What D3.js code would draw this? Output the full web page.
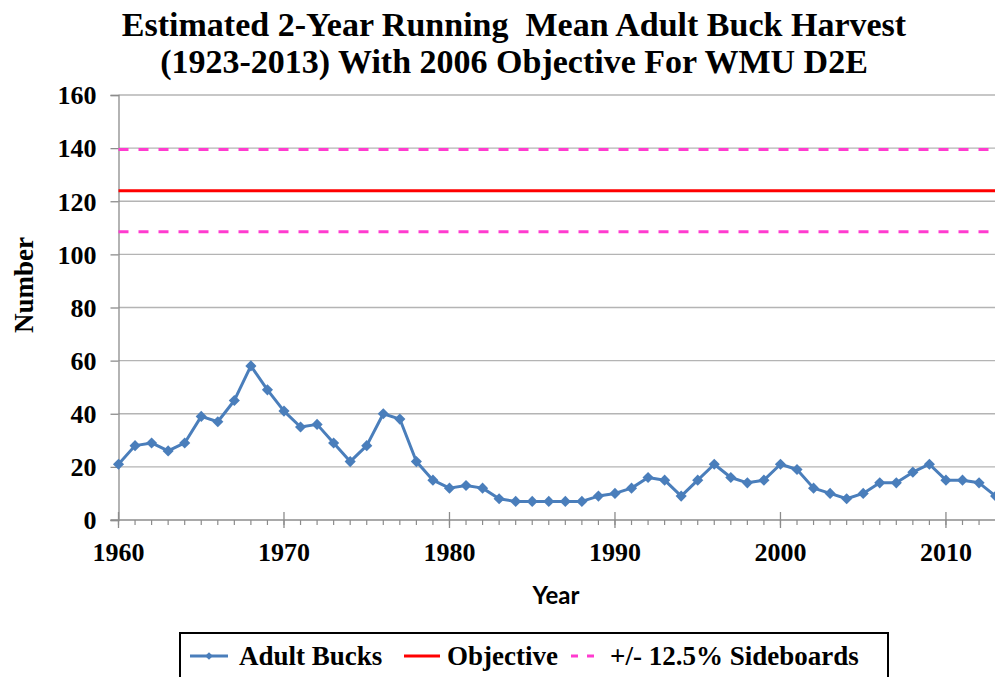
<!DOCTYPE html>
<html>
<head>
<meta charset="utf-8">
<script src="https://cdn.jsdelivr.net/npm/d3@7/dist/d3.min.js"></script>
<style>
  html, body { margin: 0; padding: 0; background: #fff; }
  svg { display: block; }
</style>
</head>
<body>
<svg id="chart" width="995" height="677"></svg>
<script>
// Estimated 2-year running mean of adult buck harvest, WMU D2E
const years = d3.range(1960, 2014);
const adultBucks = [
  21, 28, 29, 26, 29, 39, 37, 45, 58, 49,   // 1960-1969
  41, 35, 36, 29, 22, 28, 40, 38, 22, 15,   // 1970-1979
  12, 13, 12, 8, 7, 7, 7, 7, 7, 9,          // 1980-1989
  10, 12, 16, 15, 9, 15, 21, 16, 14, 15,    // 1990-1999
  21, 19, 12, 10, 8, 10, 14, 14, 18, 21,    // 2000-2009
  15, 15, 14, 9                             // 2010-2013
];
const objective = 124;
const sideboardPct = 0.125;
const sideboards = [objective * (1 + sideboardPct), objective * (1 - sideboardPct)];
const yTicks = [0, 20, 40, 60, 80, 100, 120, 140, 160];
const xTicks = [1960, 1970, 1980, 1990, 2000, 2010];
const titleLines = [
  "Estimated 2-Year Running  Mean Adult Buck Harvest",
  "(1923-2013) With 2006 Objective For WMU D2E"
];
const legendItems = ["Adult Bucks", "Objective", "+/- 12.5% Sideboards"];

const blue = "#4a7ebb", red = "#ff0000", pink = "#ff3bcf", grid = "#b4b4b4", axisCol = "#8c8c8c";
const SERIF = "'Liberation Serif'";

function serif(sel, size) {
  return sel.style("font-family", SERIF).style("font-weight", "bold")
    .style("font-size", size + "px").attr("fill", "#000");
}

const svg = d3.select("#chart");
const x = d3.scaleLinear().domain([1960, 2013]).range([118.5, 995.6]);
const y = d3.scaleLinear().domain([0, 160]).range([520, 95]);
const plotRight = 995;

// title
serif(svg.append("g").selectAll("text").data(titleLines).join("text"), 34)
  .attr("x", 514).attr("y", (d, i) => 36 + i * 37)
  .attr("text-anchor", "middle")
  .style("white-space", "pre")
  .text(d => d);

// horizontal gridlines
svg.append("g").selectAll("line").data(yTicks.filter(t => t > 0)).join("line")
  .attr("x1", x(1960)).attr("x2", plotRight)
  .attr("y1", d => y(d)).attr("y2", d => y(d))
  .attr("stroke", grid).attr("stroke-width", 1.3);

// y axis
const yAxis = svg.append("g").attr("transform", `translate(${x(1960)},0)`)
  .call(d3.axisLeft(y).tickValues(yTicks).tickSize(8).tickPadding(14).tickFormat(d3.format("d")));
yAxis.select(".domain").attr("stroke", axisCol).attr("stroke-width", 1.3);
yAxis.selectAll(".tick line").attr("stroke", axisCol).attr("stroke-width", 1.3);
serif(yAxis.selectAll("text"), 26).attr("dy", "0.34em");

// x axis: minor yearly ticks below, major decade ticks crossing the axis
const xg = svg.append("g").attr("transform", `translate(0,${y(0)})`);
xg.append("line").attr("x1", x(1960) - 8).attr("x2", plotRight)
  .attr("stroke", axisCol).attr("stroke-width", 1.3);
xg.selectAll("line.minor").data(years).join("line").attr("class", "minor")
  .attr("x1", d => x(d)).attr("x2", d => x(d)).attr("y1", 0).attr("y2", 5)
  .attr("stroke", axisCol).attr("stroke-width", 1.2);
xg.selectAll("line.major").data(xTicks).join("line").attr("class", "major")
  .attr("x1", d => x(d)).attr("x2", d => x(d)).attr("y1", -8).attr("y2", 8)
  .attr("stroke", axisCol).attr("stroke-width", 1.3);
serif(xg.selectAll("text").data(xTicks).join("text"), 26)
  .attr("x", d => x(d)).attr("y", 41)
  .attr("text-anchor", "middle")
  .text(d => d);

// axis titles
svg.append("text")
  .attr("x", 556).attr("y", 604).attr("text-anchor", "middle")
  .style("font-family", "Lato, 'Open Sans', sans-serif").style("font-weight", "bold")
  .style("font-size", "24px").text("Year");
serif(svg.append("text"), 27)
  .attr("transform", "translate(33,285) rotate(-90)")
  .attr("text-anchor", "middle").text("Number");

// objective and sideboards
svg.append("line")
  .attr("x1", x(1960)).attr("x2", plotRight)
  .attr("y1", y(objective)).attr("y2", y(objective))
  .attr("stroke", red).attr("stroke-width", 3);
svg.append("g").selectAll("line").data(sideboards).join("line")
  .attr("x1", x(1960)).attr("x2", plotRight)
  .attr("y1", d => y(d)).attr("y2", d => y(d))
  .attr("stroke", pink).attr("stroke-width", 3).attr("stroke-dasharray", "10 10");

// adult bucks series
const series = years.map((yr, i) => ({ yr, v: adultBucks[i] }));
svg.append("path").datum(series)
  .attr("fill", "none").attr("stroke", blue).attr("stroke-width", 3).attr("stroke-linejoin", "round")
  .attr("d", d3.line().x(d => x(d.yr)).y(d => y(d.v)));
const diamond = d3.symbol().type(d3.symbolSquare).size(62);
svg.append("g").selectAll("path").data(series).join("path")
  .attr("d", diamond)
  .attr("transform", d => `translate(${x(d.yr)},${y(d.v)}) rotate(45)`)
  .attr("fill", blue);

// legend
const lg = svg.append("g");
lg.append("rect").attr("x", 180).attr("y", 633).attr("width", 708).attr("height", 60)
  .attr("fill", "#fff").attr("stroke", "#000").attr("stroke-width", 2);
const ly = 656;
const itemPos = [
  { x0: 190, x1: 228, tx: 239 },
  { x0: 404, x1: 440, tx: 447 },
  { x0: 571, x1: 602, tx: 610 }
];
// blue sample with marker
lg.append("line").attr("x1", itemPos[0].x0).attr("x2", itemPos[0].x1).attr("y1", ly).attr("y2", ly)
  .attr("stroke", blue).attr("stroke-width", 3);
lg.append("path").attr("d", d3.symbol().type(d3.symbolSquare).size(30))
  .attr("transform", `translate(${(itemPos[0].x0 + itemPos[0].x1) / 2},${ly}) rotate(45)`).attr("fill", blue);
lg.append("line").attr("x1", itemPos[1].x0).attr("x2", itemPos[1].x1).attr("y1", ly).attr("y2", ly)
  .attr("stroke", red).attr("stroke-width", 3);
lg.append("line").attr("x1", itemPos[2].x0).attr("x2", itemPos[2].x1).attr("y1", ly).attr("y2", ly)
  .attr("stroke", pink).attr("stroke-width", 3).attr("stroke-dasharray", "7 9");
serif(lg.selectAll("text").data(legendItems).join("text"), 27)
  .attr("x", (d, i) => itemPos[i].tx).attr("y", ly + 9)
  .text(d => d);
</script>
</body>
</html>
